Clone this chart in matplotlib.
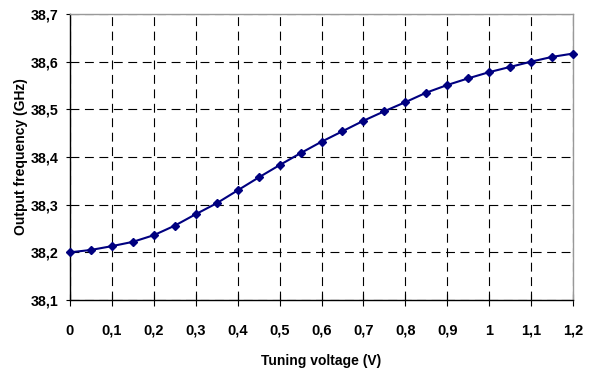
import matplotlib
matplotlib.use("Agg")
import matplotlib.pyplot as plt
from matplotlib.ticker import FixedLocator, FuncFormatter

voltage = [0, 0.05, 0.1, 0.15, 0.2, 0.25, 0.3, 0.35, 0.4, 0.45, 0.5, 0.55, 0.6,
           0.65, 0.7, 0.75, 0.8, 0.85, 0.9, 0.95, 1.0, 1.05, 1.1, 1.15, 1.2]
frequency = [38.200, 38.205, 38.213, 38.222, 38.236, 38.256, 38.280, 38.303, 38.330,
             38.357, 38.383, 38.408, 38.432, 38.454, 38.476, 38.496, 38.515, 38.535,
             38.551, 38.565, 38.578, 38.589, 38.600, 38.610, 38.617]
x_ticks = [0, 0.1, 0.2, 0.3, 0.4, 0.5, 0.6, 0.7, 0.8, 0.9, 1.0, 1.1, 1.2]
y_ticks = [38.1, 38.2, 38.3, 38.4, 38.5, 38.6, 38.7]

plt.rcParams['font.family'] = ['Liberation Sans', 'DejaVu Sans']
plt.rcParams['font.weight'] = 'bold'

fig = plt.figure(figsize=(5.91, 3.71), dpi=100)
ax = fig.add_axes([70/591, 71/371, 503/591, 286/371])

ax.plot(voltage, frequency, color='#000080', lw=1.5, marker='D', ms=4,
        markeredgecolor='#000080', markerfacecolor='#000080', zorder=3, clip_on=False)

ax.set_xlim(0, 1.2)
ax.set_ylim(38.1, 38.7)
ax.xaxis.set_major_locator(FixedLocator(x_ticks))
ax.yaxis.set_major_locator(FixedLocator(y_ticks))

def fmt(v, pos):
    s = ('%.1f' % v).replace('.', ',')
    if s.endswith(',0') and v < 10:
        s = s[:-2]
    return s
ax.xaxis.set_major_formatter(FuncFormatter(fmt))
ax.yaxis.set_major_formatter(FuncFormatter(lambda v, p: ('%.1f' % v).replace('.', ',')))

ax.grid(True, color='black', linestyle=(0, (8, 5)), linewidth=0.8)
ax.set_axisbelow(True)

for lab in ax.get_xticklabels() + ax.get_yticklabels():
    lab.set_fontweight('bold')
ax.tick_params(axis='x', direction='inout', length=8, width=0.8, labelsize=10.5, pad=13)
ax.tick_params(axis='y', direction='out', length=3, width=0.8, labelsize=10.3, pad=5.5)

ax.spines['left'].set_color('black')
ax.spines['bottom'].set_color('black')
ax.spines['top'].set_color('#999999')
ax.spines['right'].set_color('#999999')
for s in ax.spines.values():
    s.set_linewidth(1.0)

ax.set_xlabel('Tuning voltage (V)', fontsize=10, fontweight='bold', labelpad=12)
ax.set_ylabel('Output frequency (GHz)', fontsize=10, fontweight='bold', labelpad=1.5)

fig.savefig('out.png', dpi=100)
